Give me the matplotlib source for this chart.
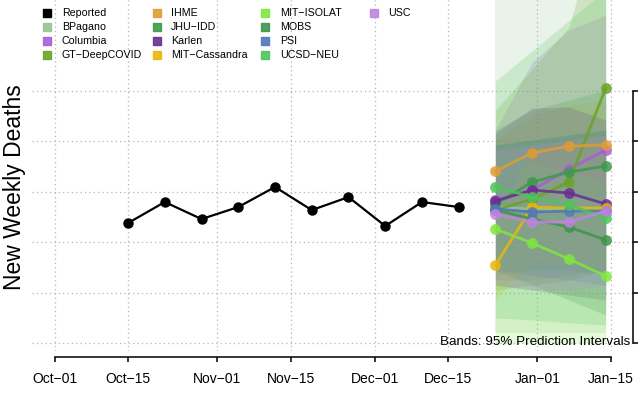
import numpy as np
import pandas as pd
import matplotlib
matplotlib.use("Agg")
import matplotlib.pyplot as plt
import matplotlib.dates as mdates
from matplotlib.patches import Rectangle

plt.rcParams['font.family'] = ['Liberation Sans', 'DejaVu Sans']

# data
reported_dates = pd.date_range("2020-10-15", periods=10, freq="7D")
reported = [1190, 1399, 1230, 1349, 1548, 1319, 1448, 1161, 1399, 1349]

fc_dates = pd.to_datetime(["2020-12-24", "2020-12-31", "2021-01-07", "2021-01-14"])

models = ["BPagano", "Columbia", "GT-DeepCOVID", "IHME", "JHU-IDD", "Karlen",
          "MIT-Cassandra", "MIT-ISOLAT", "MOBS", "PSI", "UCSD-NEU", "USC"]
colors = ["#93C393", "#A95CDB", "#6AA323", "#E09C34", "#3D9A4C", "#6A2E91",
          "#E8B80C", "#80E641", "#3F9448", "#4E77BB", "#4FC35C", "#C084E0"]

median = {
    "BPagano":       [1349, 1329, 1319, 1309],
    "Columbia":      [1419, 1518, 1726, 1915],
    "GT-DeepCOVID":  [1319, 1428, 1597, 2530],
    "IHME":          [1706, 1885, 1954, 1964],
    "JHU-IDD":       [1379, 1597, 1696, 1756],
    "Karlen":        [1409, 1518, 1488, 1379],
    "MIT-Cassandra": [774, 1349, 1339, 1339],
    "MIT-ISOLAT":    [1131, 992, 833, 665],
    "MOBS":          [1319, 1230, 1151, 1022],
    "PSI":           [1329, 1300, 1309, 1309],
    "UCSD-NEU":      [1548, 1448, 1369, 1240],
    "USC":           [1280, 1200, 1200, 1309],
}
lower = {
    "BPagano":       [99, 99, 99, 99],
    "Columbia":      [625, 625, 675, 724],
    "GT-DeepCOVID":  [526, 575, 625, 724],
    "IHME":          [1320, 1400, 1450, 1450],
    "JHU-IDD":       [675, 724, 724, 675],
    "Karlen":        [575, 526, 476, 427],
    "MIT-Cassandra": [427, 823, 774, 724],
    "MIT-ISOLAT":    [0, 0, 0, 0],
    "MOBS":          [724, 575, 427, 278],
    "PSI":           [724, 675, 625, 575],
    "UCSD-NEU":      [250, 230, 200, 180],
    "USC":           [575, 526, 526, 575],
}
upper = {
    "BPagano":       [4400, 4400, 4400, 4400],
    "Columbia":      [2113, 2788, 3105, 3254],
    "GT-DeepCOVID":  [2311, 2718, 3135, 4400],
    "IHME":          [2014, 2263, 2362, 2411],
    "JHU-IDD":       [2113, 2311, 2411, 2510],
    "Karlen":        [2083, 2331, 2341, 2212],
    "MIT-Cassandra": [1220, 1915, 2014, 2063],
    "MIT-ISOLAT":    [1900, 1800, 1700, 1600],
    "MOBS":          [1966, 2014, 2063, 2113],
    "PSI":           [1966, 2014, 2063, 2113],
    "UCSD-NEU":      [2600, 2900, 3200, 3500],
    "USC":           [1915, 1966, 2014, 2063],
}

tick_dates = pd.to_datetime(["2020-10-01", "2020-10-15", "2020-11-01", "2020-11-15",
                             "2020-12-01", "2020-12-15", "2021-01-01", "2021-01-15"])
tick_labels = [d.strftime("%b-%d").replace("-", "\u2212") for d in tick_dates]
y_ticks = [0, 500, 1000, 1500, 2000, 2500]

W, H = 638, 393
fig = plt.figure(figsize=(W / 100, H / 100), dpi=100)
ax = fig.add_axes([32 / W, (H - 351) / H, (633 - 32) / W, 351 / H])

# bands
for m, c in zip(models, colors):
    ax.fill_between(fc_dates, lower[m], upper[m], color=c, alpha=0.2, lw=0)

# forecasts
for m, c in zip(models, colors):
    ax.plot(fc_dates, median[m], color=c, lw=2, alpha=0.85, marker="o",
            ms=7.8, mec="none")

ax.plot(reported_dates, reported, color="black", lw=1.6, marker="o", ms=6.5)

tick_num = mdates.date2num(tick_dates)
d0 = tick_num[0]
ax.set_xlim(d0 - 4.29, d0 + 110.2)
ax.set_ylim(-79, 3403)

ax.set_xticks(tick_num)
ax.set_xticklabels(tick_labels, fontsize=11.3)
ax.yaxis.tick_right()
ax.set_yticks(y_ticks)
ax.tick_params(axis="y", which="both", labelright=False, direction="out",
               length=3.8, width=1.1, right=True)
ax.tick_params(axis="x", direction="out", length=3.8, width=1.1, pad=7)

ax.grid(True, color="#B4B4B4", linestyle=(0, (1, 2.5)), lw=0.9)
ax.set_axisbelow(True)

for s in ["top", "left"]:
    ax.spines[s].set_visible(False)
ax.spines["bottom"].set_position(("outward", 4.3))
ax.spines["bottom"].set_bounds(tick_num[0], tick_num[-1])
ax.spines["right"].set_bounds(y_ticks[0], y_ticks[-1])
for s in ["bottom", "right"]:
    ax.spines[s].set_linewidth(1.1)

ax.text(0.995, 0.027, "Bands: 95% Prediction Intervals", transform=ax.transAxes,
        ha="right", va="center", fontsize=9.6)

fig.text(15 / W, 1 - 187 / H, "New Weekly Deaths", rotation=90, ha="center",
         va="center", fontsize=16.5)

# legend
leg_names = ["Reported"] + models
leg_colors = ["black"] + colors
col_sq = [47, 157, 265, 374]
col_tx = [62, 171, 280, 388]
row_y = [13, 27, 41, 55]
for i, (n, c) in enumerate(zip(leg_names, leg_colors)):
    col, row = i // 4, i % 4
    x, y = col_sq[col], row_y[row]
    fig.patches.append(Rectangle(((x - 4) / W, 1 - (y + 4) / H), 8 / W, 8 / H,
                                 transform=fig.transFigure, color=c,
                                 alpha=1 if n == "Reported" else 0.9))
    fig.text(col_tx[col] / W, 1 - y / H, n.replace("-", "\u2212"), ha="left",
             va="center", fontsize=7.7)

fig.savefig("out.png", dpi=100)
